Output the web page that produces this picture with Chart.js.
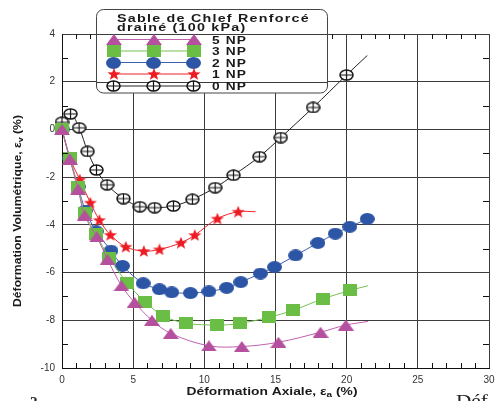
<!DOCTYPE html>
<html>
<head>
<meta charset="utf-8">
<script src="https://cdn.jsdelivr.net/npm/chart.js@4.4.0/dist/chart.umd.min.js"></script>
<style>
    html, body { margin: 0; padding: 0; background: #fff; }
    #wrap { width: 496px; height: 401px; position: relative; }
</style>
</head>
<body>
<div id="wrap"><canvas id="chart"></canvas></div>
<script>
// Données (εa en %, εv en %)
const labels = ['5 NP', '3 NP', '2 NP', '1 NP', '0 NP'];

const x5 = [0, 0.55, 1.13, 1.59, 2.45, 3.2, 4.18, 5.1, 6.32, 7.64, 10.32, 12.63, 15.21, 18.17, 19.94];
const y5 = [0, -1.25, -2.5, -3.6, -4.5, -5.45, -6.55, -7.25, -8.0, -8.55, -9.07, -9.1, -8.92, -8.5, -8.2];
const tail5 = [21.5, -8.05];

const x3 = [0, 0.55, 1.13, 1.59, 2.4, 3.32, 4.59, 5.86, 7.13, 8.7, 10.9, 12.51, 14.55, 16.25, 18.33, 20.24];
const y3 = [0, -1.2, -2.4, -3.5, -4.4, -5.38, -6.44, -7.24, -7.82, -8.12, -8.2, -8.13, -7.87, -7.58, -7.1, -6.75];
const tail3 = [21.5, -6.55];

const x2 = [0, 0.55, 1.13, 1.65, 2.4, 3.44, 4.25, 5.7, 6.85, 7.71, 9.02, 10.32, 11.57, 12.56, 13.94, 14.93, 16.41, 17.98, 19.2, 20.22, 21.45];
const y2 = [0, -1.2, -2.4, -3.4, -4.27, -5.08, -5.72, -6.45, -6.7, -6.83, -6.86, -6.79, -6.64, -6.4, -6.04, -5.77, -5.28, -4.76, -4.37, -4.08, -3.75];
const tail2 = null;

const x1 = [0, 0.55, 1.25, 1.99, 2.63, 3.4, 4.48, 5.75, 6.85, 8.36, 9.33, 10.92, 12.38];
const y1 = [0, -1.2, -2.1, -3.07, -3.8, -4.42, -4.92, -5.1, -5.03, -4.75, -4.43, -3.74, -3.45];
const tail1 = [13.6, -3.45];

const x0 = [0, 0.6, 1.2, 1.8, 2.42, 3.17, 4.32, 5.47, 6.51, 7.83, 9.16, 10.76, 12.05, 13.87, 15.37, 17.64, 19.99];
const y0 = [0.3, 0.65, 0.07, -0.92, -1.7, -2.32, -2.9, -3.24, -3.28, -3.21, -2.93, -2.44, -1.92, -1.14, -0.34, 0.92, 2.28];
const tail0 = [21.45, 3.1];

const xTicks = [0, 5, 10, 15, 20, 25, 30];
const yTicks = [-10, -8, -6, -4, -2, 0, 2, 4];

// Marqueurs (légèrement étirés en largeur comme sur la figure)
function makeMarker(w, h, draw) {
    const c = document.createElement('canvas');
    c.width = w;
    c.height = h;
    draw(c.getContext('2d'), w, h);
    return c;
}

const triMark = makeMarker(16, 11, (g, w, h) => {
    g.fillStyle = '#b5509f';
    g.beginPath();
    g.moveTo(w / 2, 0);
    g.lineTo(w, h);
    g.lineTo(0, h);
    g.closePath();
    g.fill();
});
const sqMark = makeMarker(14, 12, (g, w, h) => {
    g.fillStyle = '#6abd45';
    g.fillRect(0, 0, w, h);
});
const dotMark = makeMarker(15, 12, (g, w, h) => {
    g.fillStyle = '#2d55a5';
    g.beginPath();
    g.ellipse(w / 2, h / 2, w / 2, h / 2, 0, 0, Math.PI * 2);
    g.fill();
});
const starMark = makeMarker(14, 12, (g, w, h) => {
    g.fillStyle = '#ed1c24';
    g.beginPath();
    const cx = w / 2, cy = h * 0.54;
    for (let i = 0; i < 10; i++) {
        const a = -Math.PI / 2 + i * Math.PI / 5;
        const r = i % 2 ? 0.42 : 1;
        const px = cx + Math.cos(a) * r * w / 2;
        const py = cy + Math.sin(a) * r * h * 0.54;
        if (i === 0) g.moveTo(px, py); else g.lineTo(px, py);
    }
    g.closePath();
    g.fill();
});
const crossMark = makeMarker(15, 12, (g, w, h) => {
    const cx = w / 2, cy = h / 2, rx = w / 2 - 1, ry = h / 2 - 1;
    g.fillStyle = '#fff';
    g.strokeStyle = '#111';
    g.lineWidth = 1.5;
    g.beginPath();
    g.ellipse(cx, cy, rx, ry, 0, 0, Math.PI * 2);
    g.fill();
    g.stroke();
    g.lineWidth = 1.2;
    g.beginPath();
    g.moveTo(cx - rx, cy); g.lineTo(cx + rx, cy);
    g.moveTo(cx, cy - ry); g.lineTo(cx, cy + ry);
    g.stroke();
});

const series = [
    { label: labels[0], xs: x5, ys: y5, tail: tail5, color: '#c060ae', marker: triMark },
    { label: labels[1], xs: x3, ys: y3, tail: tail3, color: '#74c250', marker: sqMark },
    { label: labels[2], xs: x2, ys: y2, tail: tail2, color: '#3a5fb0', marker: dotMark },
    { label: labels[3], xs: x1, ys: y1, tail: tail1, color: '#ee2228', marker: starMark },
    { label: labels[4], xs: x0, ys: y0, tail: tail0, color: '#222222', marker: crossMark }
];

const datasets = series.map(s => {
    const pts = s.xs.map((x, i) => ({ x: x, y: s.ys[i] }));
    if (s.tail) pts.push({ x: s.tail[0], y: s.tail[1] });
    const n = s.xs.length;
    return {
        label: s.label,
        data: pts,
        showLine: true,
        borderColor: s.color,
        borderWidth: 1,
        tension: 0.35,
        pointStyle: s.marker,
        pointRadius: ctx => ctx.dataIndex < n ? 6 : 0,
        clip: false
    };
});

// Texte élargi (la figure d'origine est étirée horizontalement)
function wideText(ctx, str, x, y, font, sx, spacing) {
    ctx.save();
    ctx.font = font;
    ctx.letterSpacing = spacing + 'px';
    ctx.textAlign = 'left';
    ctx.textBaseline = 'alphabetic';
    ctx.fillStyle = '#1a1a1a';
    ctx.translate(x, y);
    ctx.scale(sx, 1);
    ctx.fillText(str, 0, 0);
    ctx.restore();
}

function richText(ctx, parts, cx, cy, width, rotate) {
    ctx.save();
    let total = 0;
    const widths = parts.map(p => {
        ctx.font = p[1];
        const w = ctx.measureText(p[0]).width;
        total += w;
        return w;
    });
    ctx.translate(cx, cy);
    if (rotate) ctx.rotate(-Math.PI / 2);
    ctx.scale(width / total, 1);
    ctx.fillStyle = '#1a1a1a';
    ctx.textBaseline = 'middle';
    let x = -total / 2;
    parts.forEach((p, i) => {
        ctx.font = p[1];
        ctx.fillText(p[0], x, p[2]);
        x += widths[i];
    });
    ctx.restore();
}

const FONT = '"Liberation Sans", Arial, sans-serif';

const decorPlugin = {
    id: 'decor',
    afterDatasetsDraw(chart) {
        const ctx = chart.ctx;
        const xs = chart.scales.x, ys = chart.scales.y;
        const a = chart.chartArea;
        ctx.save();
        ctx.strokeStyle = '#111';
        ctx.lineWidth = 1;
        ctx.beginPath();
        // petites graduations intérieures
        for (let v = 1; v < 30; v++) {
            if (v % 5 === 0) continue;
            const px = Math.round(xs.getPixelForValue(v)) + 0.5;
            ctx.moveTo(px, a.bottom); ctx.lineTo(px, a.bottom - 5);
            ctx.moveTo(px, a.top); ctx.lineTo(px, a.top + 5);
        }
        for (let v = -9; v < 4; v += 2) {
            const py = Math.round(ys.getPixelForValue(v)) + 0.5;
            ctx.moveTo(a.left, py); ctx.lineTo(a.left + 6, py);
            ctx.moveTo(a.right, py); ctx.lineTo(a.right - 6, py);
        }
        ctx.stroke();
        ctx.restore();
    },
    afterDraw(chart) {
        const ctx = chart.ctx;
        const ys = chart.scales.y;

        // cadre de la légende
        const bx = 96.5, by = 9.5, bw = 231, bh = 83.5;
        ctx.save();
        ctx.fillStyle = '#fff';
        ctx.strokeStyle = '#444';
        ctx.lineWidth = 1;
        ctx.beginPath();
        ctx.roundRect(bx, by, bw, bh, 7);
        ctx.fill();
        ctx.stroke();
        // les lignes horizontales restent visibles à travers le cadre
        ctx.strokeStyle = '#3c3c3c';
        ctx.beginPath();
        [4, 2].forEach(v => {
            const py = Math.round(ys.getPixelForValue(v)) + 0.5;
            ctx.moveTo(bx, py); ctx.lineTo(bx + bw, py);
        });
        ctx.stroke();
        ctx.restore();

        wideText(ctx, 'Sable de Chlef Renforcé', 117, 21.5, 'bold 11px ' + FONT, 1.3, 0.95);
        wideText(ctx, 'drainé (100 kPa)', 117, 30.5, 'bold 11px ' + FONT, 1.3, 0.95);

        const rowY = [39.5, 51, 62.5, 74, 86];
        const mx = [113.5, 153.5, 193.5];
        series.forEach((s, i) => {
            const y = rowY[i];
            ctx.save();
            ctx.strokeStyle = s.color;
            ctx.lineWidth = 1;
            ctx.beginPath();
            ctx.moveTo(mx[0], y);
            ctx.lineTo(mx[2], y);
            ctx.stroke();
            mx.forEach(x => ctx.drawImage(s.marker, Math.round(x - s.marker.width / 2), Math.round(y - s.marker.height / 2)));
            ctx.restore();
            wideText(ctx, s.label, 212, y + 4, 'bold 11px ' + FONT, 1.25, 0.9);
        });

        // titres des axes
        richText(ctx, [
            ['Déformation Axiale, ε', 'bold 11px ' + FONT, 0],
            ['a', 'bold 8px ' + FONT, 3],
            [' (%)', 'bold 11px ' + FONT, 0]
        ], 272, 392, 171, false);
        richText(ctx, [
            ['Déformation Volumétrique, ε', 'bold 11px ' + FONT, 0],
            ['v', 'bold 8px ' + FONT, 3],
            [' (%)', 'bold 11px ' + FONT, 0]
        ], 18, 211, 192, true);

        // bouts de texte de la page coupés en bas
        ctx.save();
        ctx.fillStyle = '#222';
        ctx.font = 'bold 15px "Liberation Serif", serif';
        ctx.fillText('2', 30, 407);
        ctx.translate(456, 406);
        ctx.scale(1.25, 1);
        ctx.font = '17px "Liberation Serif", serif';
        ctx.fillText('Déf', 0, 0);
        ctx.restore();
    }
};

Chart.defaults.font.family = FONT;
Chart.defaults.color = '#333';

const ctx = document.getElementById('chart').getContext('2d');
new Chart(ctx, {
    type: 'scatter',
    data: { datasets: datasets },
    options: {
        responsive: true,
        maintainAspectRatio: false,
        animation: false,
        layout: { padding: { top: 34, right: 1, left: 0, bottom: 0 } },
        plugins: {
            legend: { display: false },
            tooltip: { enabled: false }
        },
        scales: {
            x: {
                type: 'linear',
                min: 0,
                max: 30,
                afterBuildTicks: scale => { scale.ticks = xTicks.map(v => ({ value: v })); },
                afterFit: scale => { scale.height = 33; scale.paddingLeft = 0; scale.paddingRight = 0; },
                ticks: { font: { size: 10 }, padding: 6, maxRotation: 0, color: '#333' },
                grid: { color: '#3c3c3c', lineWidth: 1, drawTicks: false },
                border: { display: true, color: '#111', width: 1 }
            },
            y: {
                type: 'linear',
                min: -10,
                max: 4,
                afterBuildTicks: scale => { scale.ticks = yTicks.map(v => ({ value: v })); },
                afterFit: scale => { scale.width = 62; scale.paddingTop = 0; scale.paddingBottom = 0; },
                ticks: { font: { size: 10 }, padding: 7, color: '#333' },
                grid: { color: '#3c3c3c', lineWidth: 1, drawTicks: false },
                border: { display: true, color: '#111', width: 1 }
            }
        }
    },
    plugins: [decorPlugin]
});
</script>
</body>
</html>
